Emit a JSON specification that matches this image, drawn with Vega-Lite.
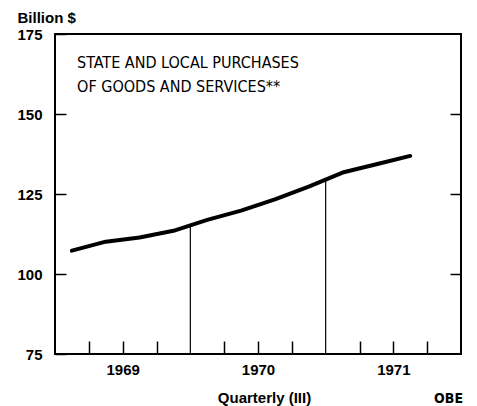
{
  "$schema": "https://vega.github.io/schema/vega-lite/v6.json",
  "autosize": "none",
  "width": 406,
  "height": 320,
  "padding": {"left": 55, "top": 34, "right": 16, "bottom": 52},
  "background": "white",
  "config": {
    "view": {"stroke": "black", "strokeWidth": 2},
    "axis": {"labelFont": "Liberation Sans", "labelFontWeight": "bold", "labelColor": "black", "titleFont": "Liberation Sans", "titleColor": "black", "tickColor": "black", "grid": false, "domain": false}
  },
  "datasets": {
    "series": [
      {"t": 1969.125, "v": 107.3},
      {"t": 1969.375, "v": 110.1},
      {"t": 1969.625, "v": 111.4},
      {"t": 1969.875, "v": 113.5},
      {"t": 1970.125, "v": 116.9},
      {"t": 1970.375, "v": 119.8},
      {"t": 1970.625, "v": 123.3},
      {"t": 1970.875, "v": 127.3},
      {"t": 1971.125, "v": 131.7},
      {"t": 1971.375, "v": 134.3},
      {"t": 1971.625, "v": 136.9}
    ],
    "boundaries": [
      {"t": 1970.0, "v": 115.3},
      {"t": 1971.0, "v": 129.6}
    ]
  },
  "resolve": {"axis": {"y": "independent"}},
  "layer": [
    {
      "data": {"name": "boundaries"},
      "mark": {"type": "rule", "color": "black", "strokeWidth": 1.2},
      "encoding": {
        "x": {"field": "t", "type": "quantitative", "scale": {"domain": [1969, 1972], "nice": false, "zero": false},
          "axis": {"values": [1969.25, 1969.5, 1969.75, 1970.25, 1970.5, 1970.75, 1971.25, 1971.5, 1971.75],
            "tickSize": -13, "tickWidth": 1.5, "labelExpr": "(datum.value*4)%4==2 ? toString(floor(datum.value)) : ''",
            "labelFontSize": 15, "labelPadding": 21, "labelBaseline": "top",
            "title": "Quarterly (III)", "titleFontSize": 15, "titleFontWeight": "bold", "titlePadding": 13, "titleX": 209}},
        "y": {"field": "v", "type": "quantitative", "scale": {"domain": [75, 175], "nice": false, "zero": false},
          "axis": {"orient": "left", "values": [75, 100, 125, 150, 175], "tickSize": -11, "tickWidth": 1.5,
            "labelFontSize": 15, "labelPadding": 24, "labelBaseline": "middle",
            "title": "Billion $", "titleFontSize": 15, "titleFontWeight": "bold", "titleAngle": 0,
            "titleAlign": "left", "titleBaseline": "alphabetic", "titleX": -38, "titleY": -12}},
        "y2": {"datum": 75}
      }
    },
    {
      "data": {"name": "series"},
      "mark": {"type": "line", "color": "black", "strokeWidth": 4, "strokeCap": "round", "strokeJoin": "round"},
      "encoding": {
        "x": {"field": "t", "type": "quantitative"},
        "y": {"field": "v", "type": "quantitative",
          "axis": {"orient": "right", "values": [100, 125, 150], "tickSize": -11, "tickWidth": 1.5, "labels": false, "title": null}}
      }
    },
    {
      "data": {"values": [{}]},
      "mark": {"type": "text", "font": "DejaVu Sans Condensed", "fontSize": 16, "align": "left", "baseline": "middle", "lineHeight": 24, "color": "black",
        "text": ["STATE AND LOCAL PURCHASES", "OF GOODS AND SERVICES**"]},
      "encoding": {"x": {"datum": 1969.163}, "y": {"datum": 165.9, "axis": null}}
    },
    {
      "data": {"values": [{}]},
      "mark": {"type": "text", "font": "DejaVu Sans Condensed", "fontWeight": "bold", "fontSize": 14, "align": "right", "baseline": "middle", "dx": 2, "dy": 45, "color": "black", "text": "OBE"},
      "encoding": {"x": {"datum": 1972}, "y": {"datum": 75, "axis": null}}
    }
  ]
}
